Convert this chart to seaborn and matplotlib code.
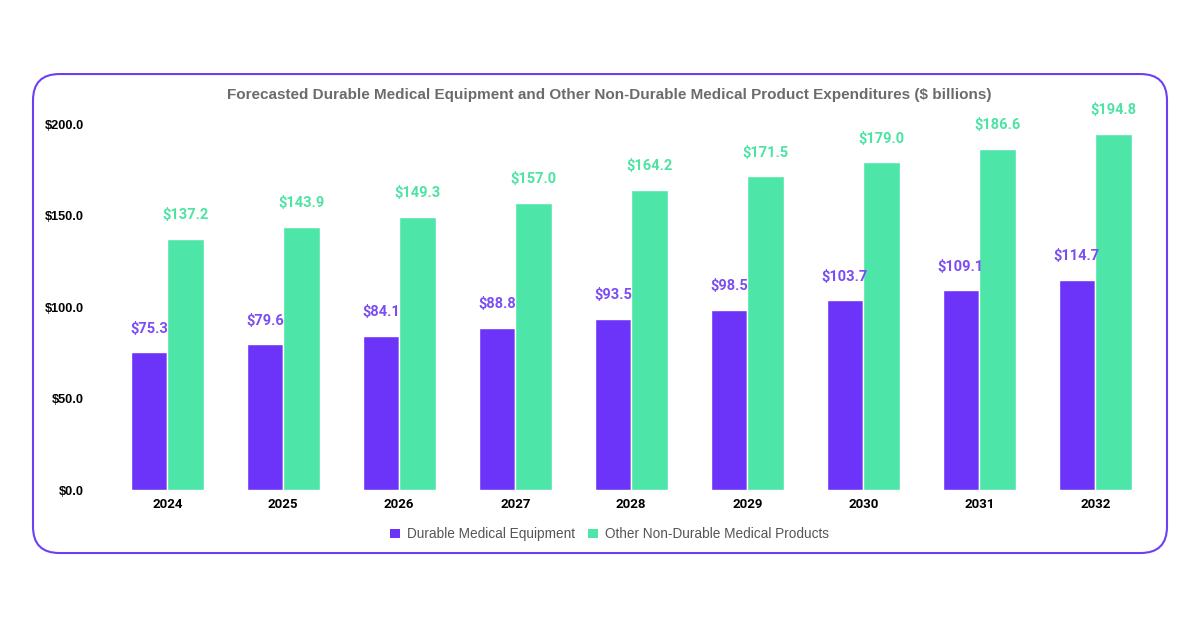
import pandas as pd
import matplotlib.pyplot as plt
import seaborn as sns
from matplotlib.patches import FancyBboxPatch, Patch

years = ['2024', '2025', '2026', '2027', '2028', '2029', '2030', '2031', '2032']
durable = [75.3, 79.6, 84.1, 88.8, 93.5, 98.5, 103.7, 109.1, 114.7]
non_durable = [137.2, 143.9, 149.3, 157.0, 164.2, 171.5, 179.0, 186.6, 194.8]
series = ['Durable Medical Equipment', 'Other Non-Durable Medical Products']
yticks = [0, 50, 100, 150, 200]

purple = '#6C33F8'
green = '#4DE6A8'
purple_txt = '#7A4EF2'
green_txt = '#4DE3A3'

sns.set_theme(style='white')
plt.rcParams['font.family'] = ['Liberation Sans', 'DejaVu Sans']

df = pd.DataFrame({
    'Year': years * 2,
    'Value': durable + non_durable,
    'Series': [series[0]] * len(years) + [series[1]] * len(years),
})

fig = plt.figure(figsize=(12, 6.28), dpi=100)
ax = fig.add_axes([0.091, 0.2197, 0.87, 0.5828])

sns.barplot(data=df, x='Year', y='Value', hue='Series', order=years,
            hue_order=series, palette=[purple, green], width=0.63, saturation=1,
            edgecolor='white', linewidth=1, legend=False, ax=ax)

ax.set_ylim(0, 200)
ax.set_xlim(-0.5, len(years) - 0.5)
ax.set_yticks(yticks)
ax.set_yticklabels([f'${v:.1f}' for v in yticks], fontweight='bold', fontsize=9.2)
ax.set_xticklabels(years, fontweight='bold', fontsize=9.5, family=['Roboto', 'DejaVu Sans'])
ax.tick_params(axis='y', length=0, pad=18, labelcolor='black')
ax.tick_params(axis='x', length=0, pad=6, labelcolor='black')
ax.set_xlabel('')
ax.set_ylabel('')
sns.despine(ax=ax, left=True, bottom=True)

for cont, col in zip(ax.containers, [purple_txt, green_txt]):
    labels = [f'${b.get_height():.1f}' for b in cont]
    ax.bar_label(cont, labels=labels, padding=12, color=col, fontsize=10.5,
                 fontweight='bold', family=['Roboto', 'DejaVu Sans'], clip_on=False)

fig.text(0.508, 0.848, 'Forecasted Durable Medical Equipment and Other Non-Durable Medical Product Expenditures ($ billions)',
         ha='center', va='center', fontsize=11, fontweight='bold', color='#6b6b6b')

handles = [Patch(facecolor=purple, edgecolor='none'), Patch(facecolor=green, edgecolor='none')]
fig.legend(handles, series, loc='center', bbox_to_anchor=(0.508, 0.149), ncol=2,
           frameon=False, fontsize=9.8, handlelength=0.7, handleheight=0.7,
           handletextpad=0.5, columnspacing=1.0, labelcolor='#555555')

border = FancyBboxPatch((0.0275, 0.1194), 0.945, 0.7627, boxstyle='round,pad=0,rounding_size=0.022',
                        transform=fig.transFigure, facecolor='none', edgecolor='#6C40F0',
                        linewidth=1.5, mutation_aspect=1.91)
fig.patches.append(border)

fig.savefig('out.png', dpi=100)
